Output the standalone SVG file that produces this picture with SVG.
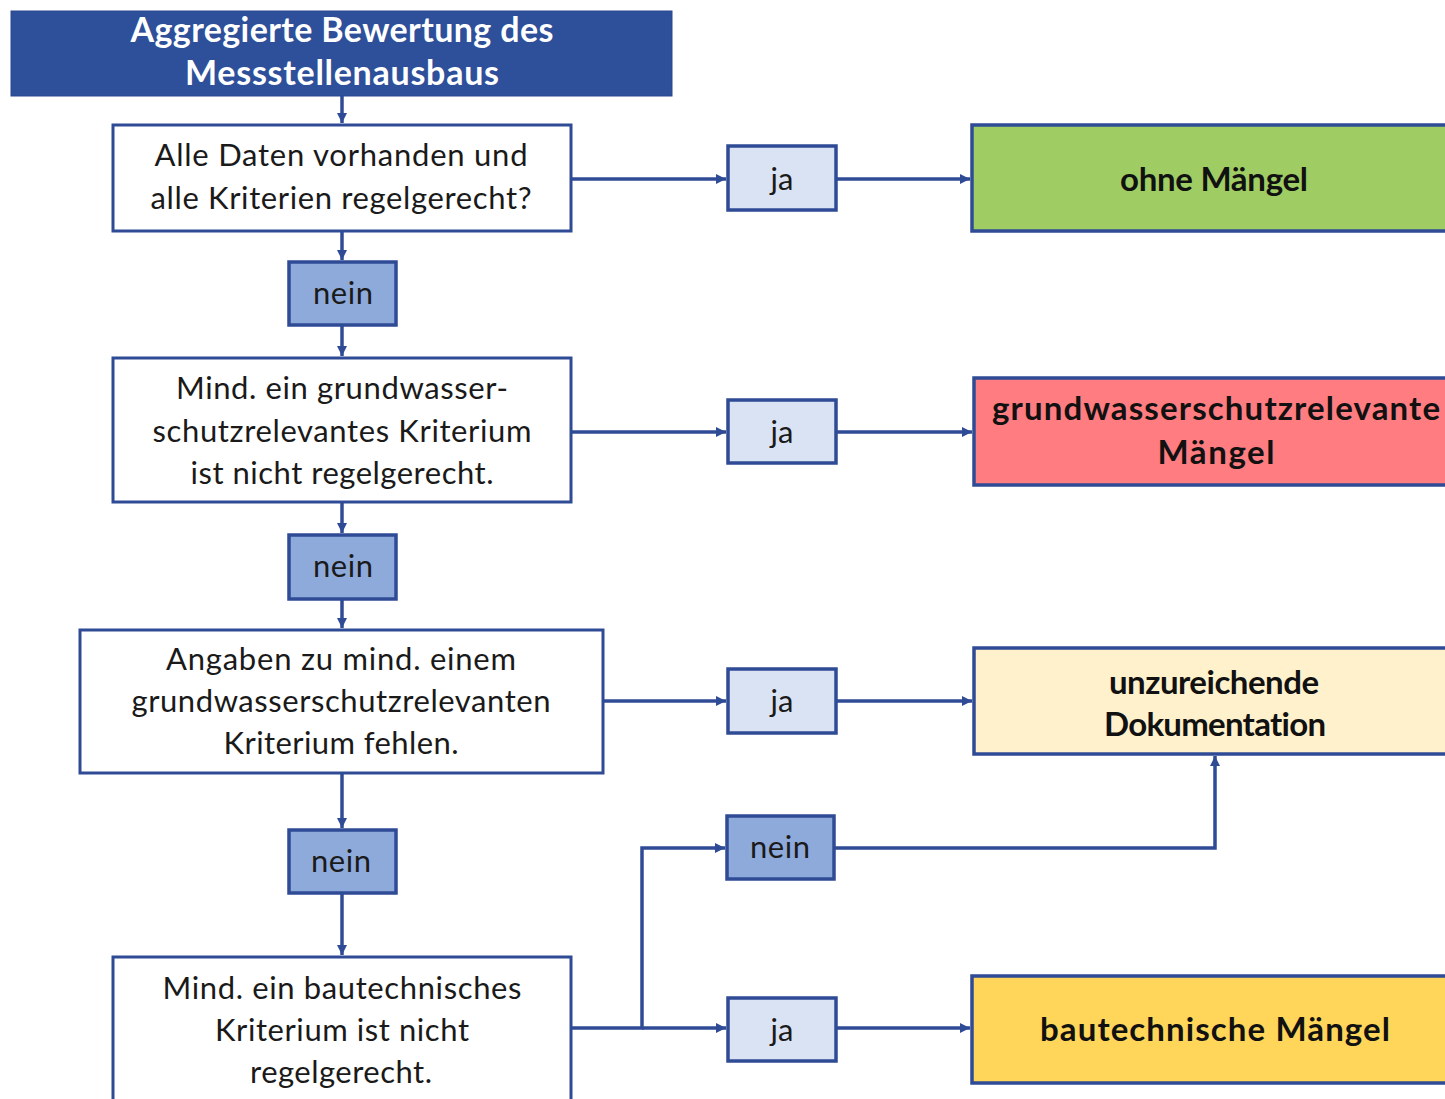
<svg xmlns="http://www.w3.org/2000/svg" width="1445" height="1099" viewBox="0 0 1445 1099">
<defs>
<marker id="arr" markerUnits="userSpaceOnUse" markerWidth="12" markerHeight="12" refX="10" refY="5" orient="auto">
<path d="M0,0 L10,5 L0,10 z" fill="#2f4b96"/>
</marker>
<style>
.box{fill:#ffffff;stroke:#2f4b96;stroke-width:3}
.title{fill:#2e4f9a;stroke:#2a4890;stroke-width:1}
.ja{fill:#dae3f3;stroke:#2f4b96;stroke-width:3.5}
.nein{fill:#8eaadb;stroke:#2f4b96;stroke-width:3.5}
.out{stroke:#2f4b96;stroke-width:3.5}
text{font-variant-ligatures:none}
.t{font-family:Lato,"Liberation Sans",sans-serif;font-size:31px;fill:#1a1a1a;text-anchor:middle}
.tb{font-family:Lato,"Liberation Sans",sans-serif;font-size:33px;font-weight:bold;fill:#111111;text-anchor:middle}
.tw{font-family:Lato,"Liberation Sans",sans-serif;font-size:34px;font-weight:bold;fill:#ffffff;text-anchor:middle}
.c{fill:none;stroke:#2f4b96;stroke-width:3.5}
</style>
</defs>
<rect width="1445" height="1099" fill="#ffffff"/>
<g id="connectors">
<path class="c" d="M342,96 V123" marker-end="url(#arr)"/>
<path class="c" d="M342,231 V260" marker-end="url(#arr)"/>
<path class="c" d="M342,325 V356" marker-end="url(#arr)"/>
<path class="c" d="M342,502 V533" marker-end="url(#arr)"/>
<path class="c" d="M342,599 V628" marker-end="url(#arr)"/>
<path class="c" d="M342,773 V828" marker-end="url(#arr)"/>
<path class="c" d="M342,893 V955" marker-end="url(#arr)"/>
<path class="c" d="M571,179 H726" marker-end="url(#arr)"/>
<path class="c" d="M836,179 H970" marker-end="url(#arr)"/>
<path class="c" d="M571,432 H726" marker-end="url(#arr)"/>
<path class="c" d="M836,432 H972" marker-end="url(#arr)"/>
<path class="c" d="M603,701 H726" marker-end="url(#arr)"/>
<path class="c" d="M836,701 H972" marker-end="url(#arr)"/>
<path class="c" d="M834,848 H1215 V756" marker-end="url(#arr)"/>
<path class="c" d="M571,1028 H642 V848 H725" marker-end="url(#arr)"/>
<path class="c" d="M642,1028 H726" marker-end="url(#arr)"/>
<path class="c" d="M836,1028 H970" marker-end="url(#arr)"/>
</g>
<g id="title">
<rect class="title" x="11" y="11" width="661" height="85"/>
<text class="tw" x="342" y="42" textLength="423">Aggregierte Bewertung des</text>
<text class="tw" x="342" y="85" textLength="314">Messstellenausbaus</text>
</g>
<g id="q1">
<rect class="box" x="113" y="125" width="458" height="106"/>
<text class="t" x="341" y="166" textLength="373">Alle Daten vorhanden  und</text>
<text class="t" x="341" y="209" textLength="381">alle Kriterien  regelgerecht?</text>
</g>
<g id="nein1">
<rect class="nein" x="289" y="262" width="107" height="63"/>
<text class="t" x="343" y="304" textLength="60">nein</text>
</g>
<g id="q2">
<rect class="box" x="113" y="358" width="458" height="144"/>
<text class="t" x="342" y="399" textLength="332">Mind. ein grundwasser-</text>
<text class="t" x="342" y="442" textLength="379">schutzrelevantes  Kriterium</text>
<text class="t" x="342" y="484" textLength="303">ist nicht regelgerecht.</text>
</g>
<g id="nein2">
<rect class="nein" x="289" y="535" width="107" height="64"/>
<text class="t" x="343" y="577" textLength="60">nein</text>
</g>
<g id="q3">
<rect class="box" x="80" y="630" width="523" height="143"/>
<text class="t" x="341" y="670" textLength="350">Angaben zu mind. einem</text>
<text class="t" x="341" y="712" textLength="419">grundwasserschutzrelevanten</text>
<text class="t" x="341" y="754" textLength="235">Kriterium fehlen.</text>
</g>
<g id="nein3">
<rect class="nein" x="289" y="830" width="107" height="63"/>
<text class="t" x="341" y="872" textLength="60">nein</text>
</g>
<g id="q4">
<rect class="box" x="113" y="957" width="458" height="150"/>
<text class="t" x="342" y="999" textLength="359">Mind. ein bautechnisches</text>
<text class="t" x="342" y="1041" textLength="254">Kriterium ist nicht</text>
<text class="t" x="341" y="1083" textLength="182">regelgerecht.</text>
</g>
<g id="ja1">
<rect class="ja" x="728" y="146" width="108" height="64"/>
<text class="t" x="782" y="190">ja</text>
</g>
<g id="ja2">
<rect class="ja" x="728" y="400" width="108" height="63"/>
<text class="t" x="782" y="443">ja</text>
</g>
<g id="ja3">
<rect class="ja" x="728" y="669" width="108" height="64"/>
<text class="t" x="782" y="712">ja</text>
</g>
<g id="nein4">
<rect class="nein" x="727" y="816" width="107" height="63"/>
<text class="t" x="780" y="858" textLength="60">nein</text>
</g>
<g id="ja4">
<rect class="ja" x="728" y="998" width="108" height="63"/>
<text class="t" x="782" y="1041">ja</text>
</g>
<g id="ohne">
<rect class="out" x="972" y="125" width="480" height="106" fill="#9fcd63"/>
<text class="tb" x="1214" y="191" textLength="188">ohne  Mängel</text>
</g>
<g id="gws">
<rect class="out" x="974" y="378" width="480" height="107" fill="#ff7c80"/>
<text class="tb" x="1216" y="420" textLength="448">grundwasserschutzrelevante</text>
<text class="tb" x="1216" y="464" textLength="117">Mängel</text>
</g>
<g id="doku">
<rect class="out" x="974" y="648" width="480" height="106" fill="#fff1cc"/>
<text class="tb" x="1214" y="694" textLength="210">unzureichende</text>
<text class="tb" x="1215" y="736" textLength="222">Dokumentation</text>
</g>
<g id="bau">
<rect class="out" x="972" y="976" width="480" height="107" fill="#ffd55a"/>
<text class="tb" x="1215" y="1041" textLength="350">bautechnische Mängel</text>
</g>
</svg>
